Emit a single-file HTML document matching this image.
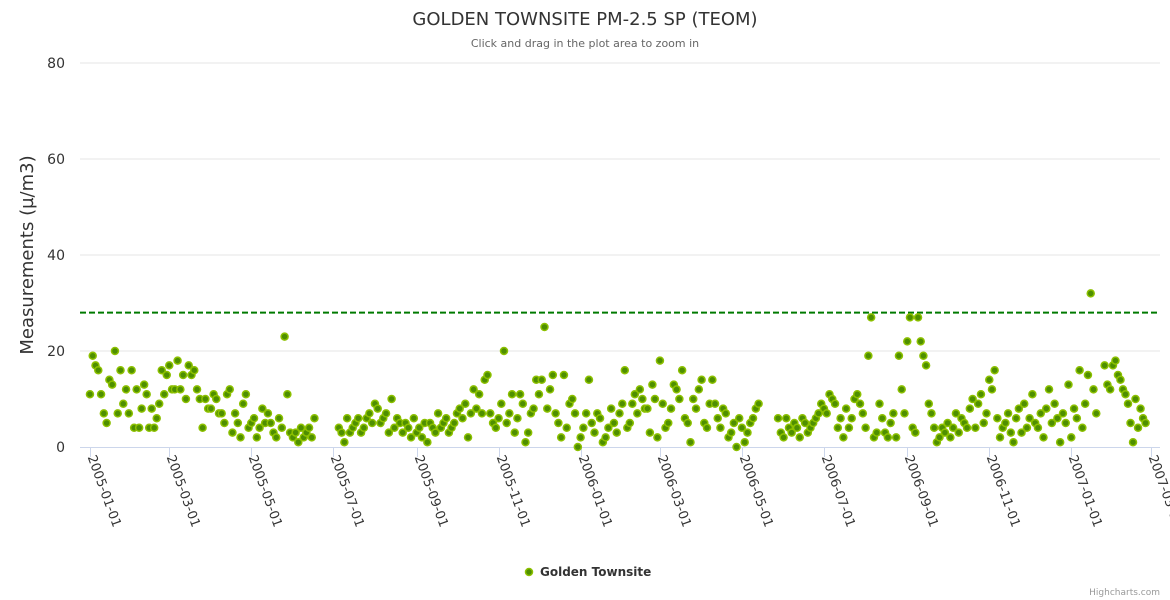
<!DOCTYPE html>
<html><head><meta charset="utf-8"><style>
body{margin:0;background:#fff;}
svg{display:block;font-family:"DejaVu Sans","Liberation Sans",sans-serif;}
</style></head><body>
<svg id="chart" width="1170" height="600">
<text x="585" y="25" text-anchor="middle" font-size="18" fill="#333">GOLDEN TOWNSITE PM-2.5 SP (TEOM)</text>
<text x="585" y="47" text-anchor="middle" font-size="11" fill="#666">Click and drag in the plot area to zoom in</text>
<text transform="translate(33,255) rotate(-90)" text-anchor="middle" font-size="18" fill="#333">Measurements (µ/m3)</text>
<g id="grid"></g><g id="xaxis"></g><g id="plot"></g>
<g>
<circle cx="529" cy="572" r="3.5" fill="#4e8f00" stroke="#8cc000" stroke-width="1.5"/>
<text x="540" y="576" font-size="12" font-weight="bold" fill="#333">Golden Townsite</text>
</g>
<text x="1160" y="595" text-anchor="end" font-size="9" fill="#999">Highcharts.com</text>
</svg>
<script>
const yTicks=[0,20,40,60,80];
const threshold=28;
const monthStarts=["2005-01-01","2005-02-01","2005-03-01","2005-04-01","2005-05-01","2005-06-01","2005-07-01","2005-08-01","2005-09-01","2005-10-01","2005-11-01","2005-12-01","2006-01-01","2006-02-01","2006-03-01","2006-04-01","2006-05-01","2006-06-01","2006-07-01","2006-08-01","2006-09-01","2006-10-01","2006-11-01","2006-12-01","2007-01-01","2007-02-01"];
const xTickLabels=["2005-01-01","2005-03-01","2005-05-01","2005-07-01","2005-09-01","2005-11-01","2006-01-01","2006-03-01","2006-05-01","2006-07-01","2006-09-01","2006-11-01","2007-01-01","2007-03-01"];
const N=null;
const monthValues=[
[11,19,17,16,11,7,5,14,13,20,7,16,9,12,7],
[16,4,12,4,8,13,11,4,8,4,6,9,16,11,15],
[17,12,12,18,12,15,10,17,15,16,12,10,4,10,8],
[8,11,10,7,7,5,11,12,3,7,5,2,9,11,4],
[5,6,2,4,8,5,7,5,3,2,6,4,23,11,3],
[2,3,1,4,2,3,4,2,6,N,N,N,N,N,N],
[N,N,4,3,1,6,3,4,5,6,3,4,6,7,5],
[9,8,5,6,7,3,10,4,6,5,3,5,4,2,6],
[3,4,2,5,1,5,4,3,7,4,5,6,3,4,5],
[7,8,6,9,2,7,12,8,11,7,14,15,7,5,4],
[6,9,20,5,7,11,3,6,11,9,1,3,7,8,14],
[11,14,25,8,12,15,7,5,2,15,4,9,10,7,0],
[2,4,7,14,5,3,7,6,1,2,4,8,5,3,7],
[9,16,4,5,9,11,7,12,10,8,8,3,13,10,2],
[18,9,4,5,8,13,12,10,16,6,5,1,10,8,12],
[14,5,4,9,14,9,6,4,8,7,2,3,5,0,6],
[4,1,3,5,6,8,9,N,N,N,N,N,N,6,3],
[2,6,4,3,5,4,2,6,5,3,4,5,6,7,9],
[8,7,11,10,9,4,6,2,8,4,6,10,11,9,7],
[4,19,27,2,3,9,6,3,2,5,7,2,19,12,7],
[22,27,4,3,27,22,19,17,9,7,4,1,2,4,3],
[5,2,4,7,3,6,5,4,8,10,4,9,11,5,7],
[14,12,16,6,2,4,5,7,3,1,6,8,3,9,4],
[6,11,5,4,7,2,8,12,5,9,6,1,7,5,13],
[2,8,6,16,4,9,15,32,12,7,N,N,17,13,12],
[17,18,15,14,12,11,9,5,1,10,4,8,6,5,N]
];
const NS="http://www.w3.org/2000/svg";
const day0=Date.UTC(2005,0,1), DAY=864e5;
function dayOf(s){const p=s.split('-');return (Date.UTC(+p[0],p[1]-1,+p[2])-day0)/DAY;}
const X0=80,X1=1160,D0=-7.4,D1=796;
function xs(d){return X0+(d-D0)/(D1-D0)*(X1-X0);}
function ys(v){return 447-v*(384/80);}
function mk(t,a,p){const e=document.createElementNS(NS,t);for(const k in a)e.setAttribute(k,a[k]);p.appendChild(e);return e;}
const grid=document.getElementById('grid'),xa=document.getElementById('xaxis'),plot=document.getElementById('plot');
yTicks.forEach(v=>{
 if(v>0){const l=mk('line',{x1:X0,x2:X1,y1:ys(v),y2:ys(v),stroke:'#e6e6e6'},grid);
 
 }
 const t=mk('text',{x:65,y:ys(v)+5,'text-anchor':'end','font-size':14,fill:'#333'},grid);t.textContent=v;
 
 
});
const ax=mk('line',{x1:X0,x2:X1,y1:447.5,y2:447.5,stroke:'#ccd6eb'},xa);


xTickLabels.forEach(s=>{
 const x=Math.round(xs(dayOf(s)))+0.5;
 mk('line',{x1:x,x2:x,y1:447,y2:457,stroke:'#ccd6eb'},xa);
 const t=mk('text',{x:0,y:0,transform:`translate(${x-3},457) rotate(70)`,'font-size':13,fill:'#333'},xa);
 t.textContent=s;
 
 
});
const th=mk('line',{x1:X0,x2:X1,y1:ys(threshold),y2:ys(threshold),stroke:'#007a00','stroke-width':2,'stroke-dasharray':'6,3'},plot);


monthValues.forEach((vals,m)=>{
 const s=dayOf(monthStarts[m]);
 const e=m+1<monthStarts.length?dayOf(monthStarts[m+1]):s+28;
 const step=(e-s)/vals.length;
 vals.forEach((v,i)=>{
  if(v===null)return;
  const c=mk('circle',{cx:xs(s+i*step),cy:ys(v),r:3.5,fill:'#4e8f00',stroke:'#8cc000','stroke-width':1.5},plot);
  
  
 });
});
</script>
</body></html>
